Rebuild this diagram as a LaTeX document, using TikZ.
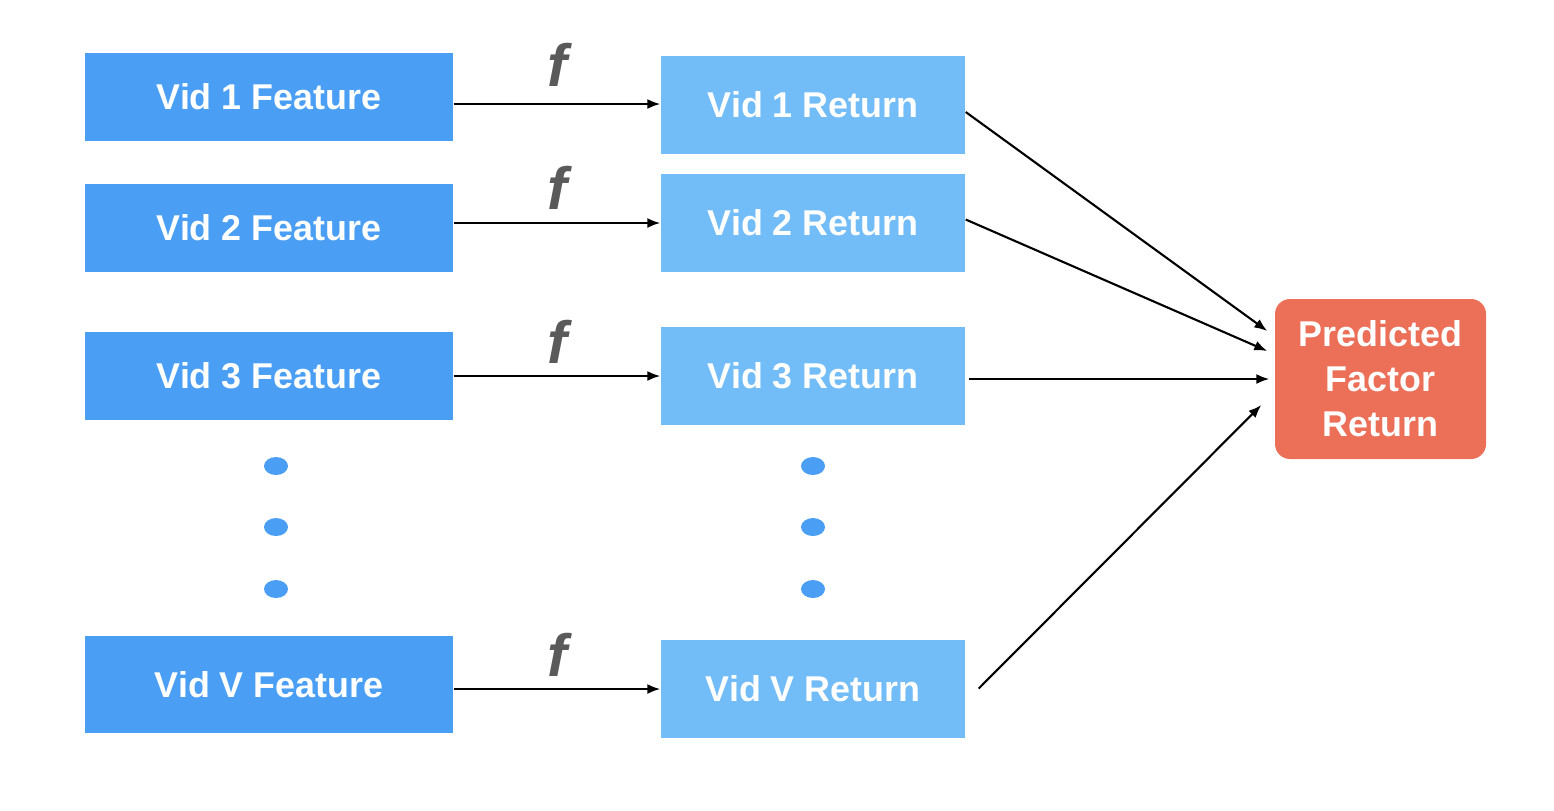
\documentclass[tikz,border=0pt]{standalone}
\usepackage{fontspec}
\setmainfont{Liberation Sans}
\usetikzlibrary{arrows.meta}

\definecolor{featblue}{HTML}{4A9FF5}
\definecolor{retblue}{HTML}{72BCF7}
\definecolor{predred}{HTML}{EC6F58}
\definecolor{fgray}{HTML}{5A5A5A}

\begin{document}
\begin{tikzpicture}[
		boxtext/.style={text=white, font=\bfseries\fontsize{10.2}{12.8}\selectfont, inner sep=0pt},
		feature/.style={boxtext, fill=featblue, minimum width=3.68cm, minimum height=0.88cm},
		vidreturn/.style={boxtext, fill=retblue, minimum width=3.04cm, minimum height=0.98cm},
		predicted/.style={boxtext, fill=predred, rounded corners=0.15cm, minimum width=2.11cm, minimum height=1.6cm, align=center},
		fn/.style={text=fgray, font=\bfseries\itshape\fontsize{17}{17}\selectfont},
		conn/.style={-{Latex[length=0.13cm,width=0.1cm]}, semithick},
	]
		\useasboundingbox (0,0) rectangle (15.54,-8.10);
		
		\node[feature] (f1) at (2.69,-0.965) {Vid 1 Feature};
		\node[feature] (f2) at (2.69,-2.28) {Vid 2 Feature};
		\node[feature] (f3) at (2.69,-3.76) {Vid 3 Feature};
		\node[feature, minimum height=0.97cm] (fv) at (2.69,-6.845) {Vid V Feature};
		
		\node[vidreturn] (r1) at (8.13,-1.05) {Vid 1 Return};
		\node[vidreturn] (r2) at (8.13,-2.225) {Vid 2 Return};
		\node[vidreturn] (r3) at (8.13,-3.76) {Vid 3 Return};
		\node[vidreturn] (rv) at (8.13,-6.885) {Vid V Return};
		
		\node[predicted] (p) at (13.805,-3.79) {Predicted\\Factor\\Return};
		
		\node[fn] (fn1) at (5.57,-0.65) {f};
		\node[fn] (fn2) at (5.57,-1.88) {f};
		\node[fn] (fn3) at (5.57,-3.42) {f};
		\node[fn] (fnv) at (5.57,-6.55) {f};
		
		% feature -> return
		\draw[conn] (f1.east |- 0,-1.04) -- (r1.west |- 0,-1.04);
		\draw[conn] (f2.east |- 0,-2.23) -- (r2.west |- 0,-2.23);
		\draw[conn] (f3.east) -- (r3.west);
		\draw[conn] (fv.east |- 0,-6.89) -- (rv.west |- 0,-6.89);
		
		% return -> predicted
		\draw[conn] ([yshift=-0.07cm]r1.east) -- ([xshift=-0.07cm,yshift=0.48cm]p.west);
		\draw[conn] ([yshift=0.03cm]r2.east) -- ([xshift=-0.07cm,yshift=0.28cm]p.west);
		\draw[conn] ([xshift=0.03cm,yshift=-0.03cm]r3.east) -- ([xshift=-0.05cm]p.west);
		\draw[conn] ([xshift=0.13cm]rv.east) -- ([xshift=-0.13cm,yshift=-0.26cm]p.west);
		
		% dots
		\foreach \y in {4.66,5.27,5.89} {
			\fill[featblue] (2.76,-\y) ellipse (0.12 and 0.09);
			\fill[featblue] (8.13,-\y) ellipse (0.12 and 0.09);
		}
	\end{tikzpicture}
\end{document}
